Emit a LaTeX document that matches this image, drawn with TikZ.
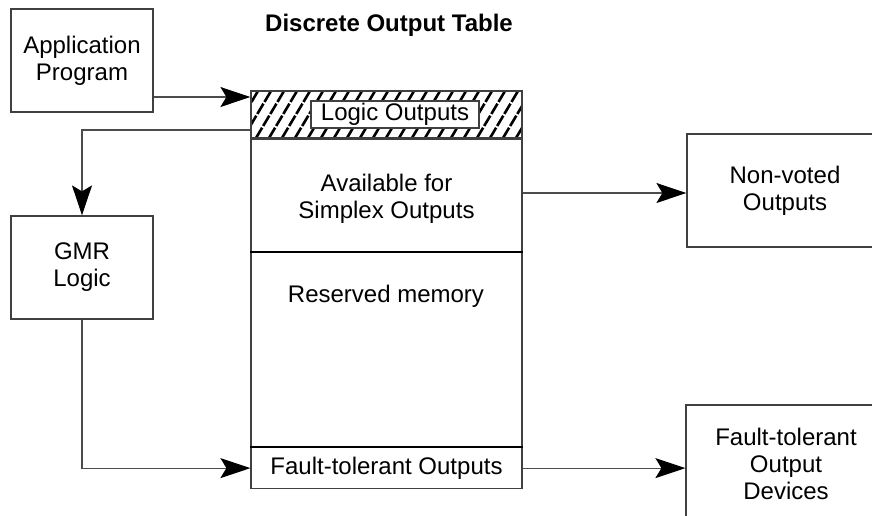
\documentclass[tikz,border=0pt]{standalone}
\usepackage{fontspec}
\setmainfont{Liberation Sans}
\usetikzlibrary{arrows.meta, positioning}

\begin{document}
\begin{tikzpicture}[
    x=0.5pt, y=-0.5pt,
    font=\fontsize{12}{13.5}\selectfont,
    box/.style={rectangle, draw=black!75, line width=0.6pt, inner sep=0pt, align=center},
    tbl/.style={rectangle, draw=black!75, line width=0.6pt, inner sep=0pt, minimum width=135.5pt, align=center},
    sep/.style={line width=1.1pt, black},
    hatchline/.style={line width=1.3pt, black, dash pattern=on 6pt off 1pt},
    arr/.style={-{Stealth[length=15pt, width=10pt, inset=3pt, black]}, line width=0.6pt, black!70}
]
    \useasboundingbox (0,0) rectangle (872,515);

    % Title
    \node[font=\fontsize{12}{13.5}\selectfont\bfseries] (title) at (389,25) {Discrete Output Table};

    % Left side blocks
    \node[box, minimum width=71pt, minimum height=51.5pt] (app) at (82,60.5) {Application\\Program};
    \node[box, minimum width=71pt, minimum height=51.5pt] (gmr) at (82,267.5) {GMR\\Logic};

    % Output table
    \node[tbl, minimum height=23.5pt] (hatch) at (386.5,114.5) {};
    \begin{scope}
        \clip (251,91) rectangle (522,138);
        \foreach \i in {0,...,23}
            \draw[hatchline] (230+\i*13,138) -- ++(28,-47);
    \end{scope}
    \node[tbl, minimum height=23.5pt] at (hatch) {};
    \node[box, fill=white, minimum width=84pt, minimum height=13.5pt] (logic) at (395,114.5) {Logic Outputs};

    \node[tbl, minimum height=56pt, below=0pt of hatch] (simplex) {\\[-1pt]Available for\\Simplex Outputs};
    \node[tbl, minimum height=97pt, below=0pt of simplex] (reserved) {};
    \node (resvtxt) at (386,296) {Reserved memory};
    \node[tbl, minimum height=20.5pt, below=0pt of reserved] (ftout) {Fault-tolerant Outputs};

    \draw[sep] (simplex.south west) -- (simplex.south east);
    \draw[sep] (ftout.north west) -- (ftout.north east);

    % Right side blocks
    \node[box, minimum width=98pt, minimum height=56.5pt] (nonvoted) at (785,190.5) {Non-voted\\Outputs};
    \node[box, minimum width=100pt, minimum height=59pt] (ftdev) at (786,464) {Fault-tolerant\\Output\\Devices};

    % Connections
    \draw[arr] (app.east |- 0,97) -- (hatch.west |- 0,97);
    \draw[arr] (hatch.west |- 0,130) -| (gmr.north);
    \draw[arr] (gmr.south) |- (ftout.west);
    \draw[arr] (simplex.east |- 0,193) -- (nonvoted.west |- 0,193);
    \draw[arr] (ftout.east) -- (ftdev.west |- ftout.east);
\end{tikzpicture}
\end{document}
